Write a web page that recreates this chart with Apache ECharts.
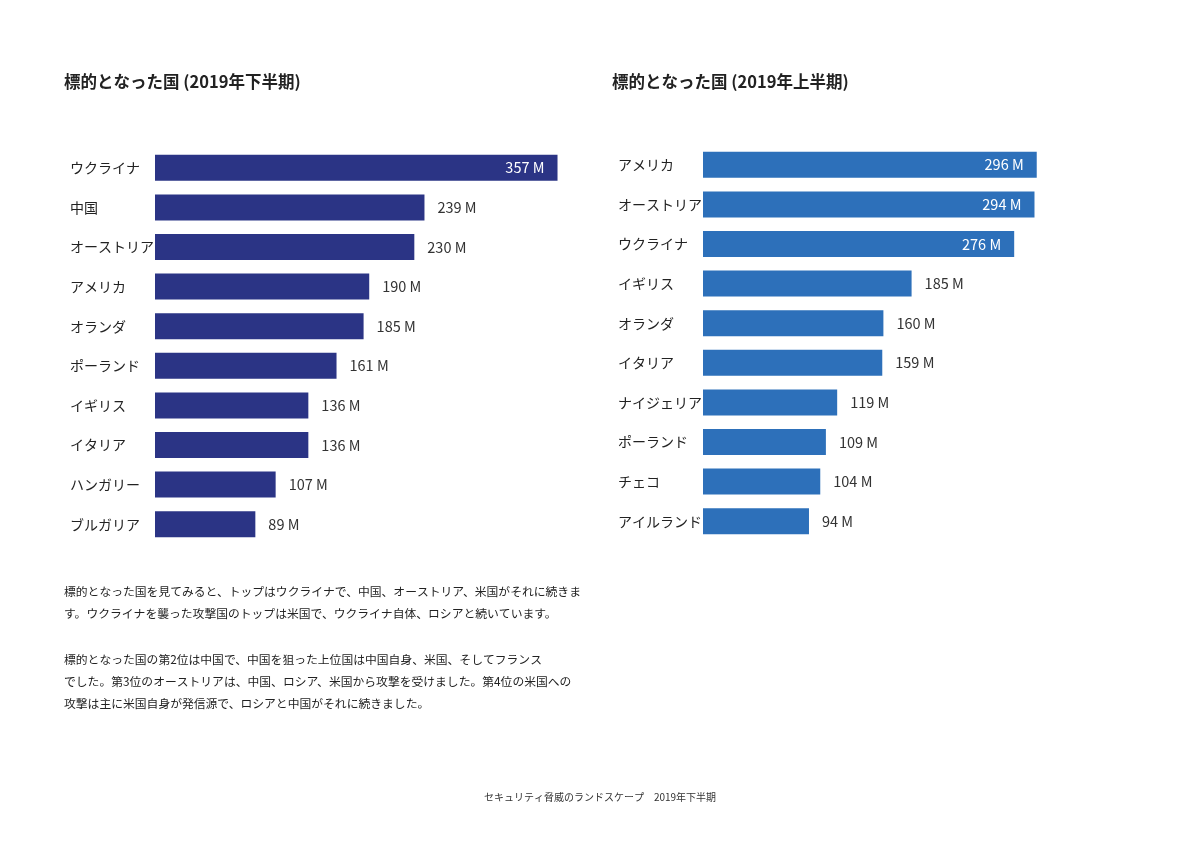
<!DOCTYPE html>
<html><head><meta charset="utf-8">
<script src="https://cdn.jsdelivr.net/npm/echarts@6/dist/echarts.min.js"></script>
<style>html,body{margin:0;padding:0;background:#fff}#c{width:1200px;height:848px}</style>
</head><body><div id="c"></div>
<script>
const leftTitle = '標的となった国 (2019年下半期)';
const rightTitle = '標的となった国 (2019年上半期)';
const leftCats = ['ウクライナ','中国','オーストリア','アメリカ','オランダ','ポーランド','イギリス','イタリア','ハンガリー','ブルガリア'];
const leftVals = [357,239,230,190,185,161,136,136,107,89];
const rightCats = ['アメリカ','オーストリア','ウクライナ','イギリス','オランダ','イタリア','ナイジェリア','ポーランド','チェコ','アイルランド'];
const rightVals = [296,294,276,185,160,159,119,109,104,94];
const insideThreshold = 250;
const paragraphs = [
 ['標的となった国を見てみると、トップはウクライナで、中国、オーストリア、米国がそれに続きま','す。ウクライナを襲った攻撃国のトップは米国で、ウクライナ自体、ロシアと続いています。'],
 ['標的となった国の第2位は中国で、中国を狙った上位国は中国自身、米国、そしてフランス','でした。第3位のオーストリアは、中国、ロシア、米国から攻撃を受けました。第4位の米国への','攻撃は主に米国自身が発信源で、ロシアと中国がそれに続きました。']
];
const footer = 'セキュリティ脅威のランドスケープ　2019年下半期';

const FONT = '"Noto Sans CJK JP", "Noto Sans", sans-serif';
function mkData(vals){
  return vals.map(v => v > insideThreshold
    ? {value:v, label:{position:'insideRight', color:'#ffffff', distance:13}}
    : {value:v, label:{position:'right', color:'#333333', distance:13}});
}
const chart = echarts.init(document.getElementById('c'));
const graphics = [];
let y = 593;
paragraphs.forEach((p,pi)=>{
  p.forEach(line=>{
    graphics.push({type:'text', left:64, top:y-7, style:{text:line, font:'11.8px '+FONT, fill:'#222'}});
    y += 22;
  });
  y += 24;
});
graphics.push({type:'text', left:'center', top:792, style:{text:footer, font:'10px '+FONT, fill:'#333'}});
chart.setOption({
  animation:false,
  backgroundColor:'#fff',
  title:[
    {text:leftTitle, left:59, top:68, textStyle:{fontFamily:FONT, fontSize:16.5, fontWeight:'bold', color:'#222'}},
    {text:rightTitle, left:607, top:68, textStyle:{fontFamily:FONT, fontSize:16.5, fontWeight:'bold', color:'#222'}}
  ],
  grid:[
    {left:155, top:148, width:451, height:396},
    {left:703, top:145, width:451, height:396}
  ],
  xAxis:[
    {gridIndex:0, type:'value', min:0, max:400, show:false},
    {gridIndex:1, type:'value', min:0, max:400, show:false}
  ],
  yAxis:[0,1].map(i=>({
    gridIndex:i, type:'category', inverse:true, data: i===0?leftCats:rightCats,
    axisLine:{show:false}, axisTick:{show:false}, splitLine:{show:false},
    axisLabel:{align:'left', margin:85, fontFamily:FONT, fontSize:14, color:'#222'}
  })),
  series:[
    {type:'bar', xAxisIndex:0, yAxisIndex:0, data:mkData(leftVals), barWidth:26,
     itemStyle:{color:'#2b3485'}, label:{show:true, formatter:'{c} M', fontFamily:FONT, fontSize:14.5}},
    {type:'bar', xAxisIndex:1, yAxisIndex:1, data:mkData(rightVals), barWidth:26,
     itemStyle:{color:'#2d70ba'}, label:{show:true, formatter:'{c} M', fontFamily:FONT, fontSize:14.5}}
  ],
  graphic:graphics
});
</script></body></html>
